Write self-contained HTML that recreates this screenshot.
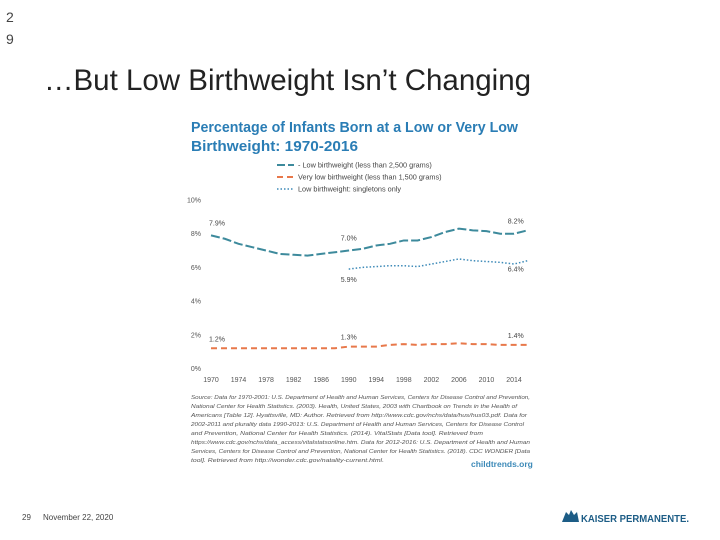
<!DOCTYPE html>
<html><head><meta charset="utf-8"><style>
body{margin:0;width:720px;height:540px;background:#fff;overflow:hidden;position:relative;font-family:"Liberation Sans",sans-serif}
.a{position:absolute;white-space:nowrap}
</style></head><body>
<div class="a" style="left:6px;top:6px;font-size:14px;color:#444;line-height:22px">2<br>9</div>
<div class="a" style="left:44px;top:64px;font-size:29.5px;color:#222">…But Low Birthweight Isn’t Changing</div>
<svg width="720" height="540" style="position:absolute;left:0;top:0" id="chart">
<text x="191" y="132" font-size="14.5" font-weight="bold" fill="#2a7db5" textLength="327" lengthAdjust="spacingAndGlyphs">Percentage of Infants Born at a Low or Very Low</text>
<text x="191" y="151" font-size="14.5" font-weight="bold" fill="#2a7db5" textLength="167" lengthAdjust="spacingAndGlyphs">Birthweight: 1970-2016</text>
<g font-size="7.3" fill="#444">
<line x1="277" y1="165" x2="294" y2="165" stroke="#3d8a9c" stroke-width="2" stroke-dasharray="8,3"/><text x="298" y="167.5">- Low birthweight (less than 2,500 grams)</text>
<line x1="277" y1="177" x2="294" y2="177" stroke="#e8784a" stroke-width="2" stroke-dasharray="6,4"/><text x="298" y="179.5">Very low birthweight (less than 1,500 grams)</text>
<line x1="277" y1="189" x2="294" y2="189" stroke="#3d8ab8" stroke-width="1.5" stroke-dasharray="1.5,2"/><text x="298" y="191.5">Low birthweight: singletons only</text>
</g>
<g id="axes" font-size="7" fill="#555"></g>
<g id="marks"></g>
<g font-size="5.8" fill="#555" font-style="italic">
<text x="191" y="399" textLength="339" lengthAdjust="spacingAndGlyphs">Source: Data for 1970-2001: U.S. Department of Health and Human Services, Centers for Disease Control and Prevention,</text>
<text x="191" y="408" textLength="326" lengthAdjust="spacingAndGlyphs">National Center for Health Statistics. (2003). Health, United States, 2003 with Chartbook on Trends in the Health of</text>
<text x="191" y="417" textLength="336" lengthAdjust="spacingAndGlyphs">Americans [Table 12]. Hyattsville, MD: Author. Retrieved from http://www.cdc.gov/nchs/data/hus/hus03.pdf. Data for</text>
<text x="191" y="426" textLength="333" lengthAdjust="spacingAndGlyphs">2002-2011 and plurality data 1990-2013: U.S. Department of Health and Human Services, Centers for Disease Control</text>
<text x="191" y="435" textLength="292" lengthAdjust="spacingAndGlyphs">and Prevention, National Center for Health Statistics. (2014). VitalStats [Data tool]. Retrieved from</text>
<text x="191" y="444" textLength="339" lengthAdjust="spacingAndGlyphs">https://www.cdc.gov/nchs/data_access/vitalstatsonline.htm. Data for 2012-2016: U.S. Department of Health and Human</text>
<text x="191" y="453" textLength="339" lengthAdjust="spacingAndGlyphs">Services, Centers for Disease Control and Prevention, National Center for Health Statistics. (2018). CDC WONDER [Data</text>
<text x="191" y="462" textLength="193" lengthAdjust="spacingAndGlyphs">tool]. Retrieved from http://wonder.cdc.gov/natality-current.html.</text>
</g>
<text x="471" y="467" font-size="8.5" font-weight="bold" fill="#3d8ab8">childtrends.org</text>
<text x="22" y="520" font-size="8" fill="#444">29</text>
<text x="43" y="520" font-size="8" fill="#444">November 22, 2020</text>
<g>
<path d="M562 522 L566 512 L569 515 L571 510 L574 515 L577 512 L579 522 Z" fill="#1d5d86"/>
<text x="581" y="522" font-size="10" font-weight="bold" fill="#1d5d86" textLength="108" lengthAdjust="spacingAndGlyphs">KAISER PERMANENTE.</text>
</g>
</svg>
<script>
const years=[1970,1972,1974,1976,1978,1980,1982,1984,1986,1988,1990,1992,1994,1996,1998,2000,2002,2004,2006,2008,2010,2012,2014,2016];
const lowBW=[7.9,7.7,7.4,7.2,7.0,6.8,6.75,6.7,6.8,6.9,7.0,7.1,7.3,7.4,7.6,7.6,7.8,8.1,8.3,8.2,8.15,8.0,8.0,8.2];
const veryLowBW=[1.2,1.2,1.2,1.2,1.2,1.2,1.2,1.2,1.2,1.2,1.3,1.3,1.3,1.4,1.45,1.4,1.45,1.45,1.5,1.45,1.45,1.4,1.4,1.4];
const singleYears=[1990,1992,1994,1996,1998,2000,2002,2004,2006,2008,2010,2012,2014,2016];
const singletons=[5.9,6.0,6.05,6.1,6.1,6.05,6.2,6.35,6.5,6.4,6.35,6.3,6.2,6.4];
const yTicks=[0,2,4,6,8,10];
const xTicks=[1970,1974,1978,1982,1986,1990,1994,1998,2002,2006,2010,2014];
const labels=[[0,1970,7.9,"7.9%",-10],[0,1990,7.0,"7.0%",-10],[0,2016,8.2,"8.2%",-7],[2,1990,5.9,"5.9%",13],[2,2016,6.4,"6.4%",11],[1,1970,1.2,"1.2%",-7],[1,1990,1.3,"1.3%",-7],[1,2016,1.4,"1.4%",-7]];
const X=y=>211+(y-1970)*(514-211)/44;
const Y=v=>368.5-v*16.85;
const NS="http://www.w3.org/2000/svg";
const ax=document.getElementById('axes'),mk=document.getElementById('marks');
function t(g,x,y,s,anchor){const e=document.createElementNS(NS,'text');e.setAttribute('x',x);e.setAttribute('y',y);if(anchor)e.setAttribute('text-anchor',anchor);e.textContent=s;g.appendChild(e);return e;}
yTicks.forEach(v=>{const e=t(ax,201,Y(v)+2.5,v+"%","end");

});
xTicks.forEach(v=>{const e=t(ax,X(v),382,v,"middle");

});
function line(xs,vs,col,w,dash,name){const p=document.createElementNS(NS,'polyline');
p.setAttribute('points',xs.map((y,i)=>X(y)+","+Y(vs[i])).join(" "));
p.setAttribute('fill','none');p.setAttribute('stroke',col);p.setAttribute('stroke-width',w);p.setAttribute('stroke-dasharray',dash);


mk.appendChild(p);}
line(years,lowBW,"#3d8a9c",2,"9,3","low-birthweight-line");
line(years,veryLowBW,"#e8784a",2,"6,4","very-low-birthweight-line");
line(singleYears,singletons,"#3d8ab8",1.5,"1.5,2","singletons-line");
labels.forEach(l=>{const e=t(mk,X(l[1])+(l[1]==2016?-4:l[1]==1970?6:0),Y(l[2])+l[4],l[3],l[1]==2016?"end":"middle");
e.setAttribute('font-size','7');e.setAttribute('fill','#444');

});
</script>
</body></html>
